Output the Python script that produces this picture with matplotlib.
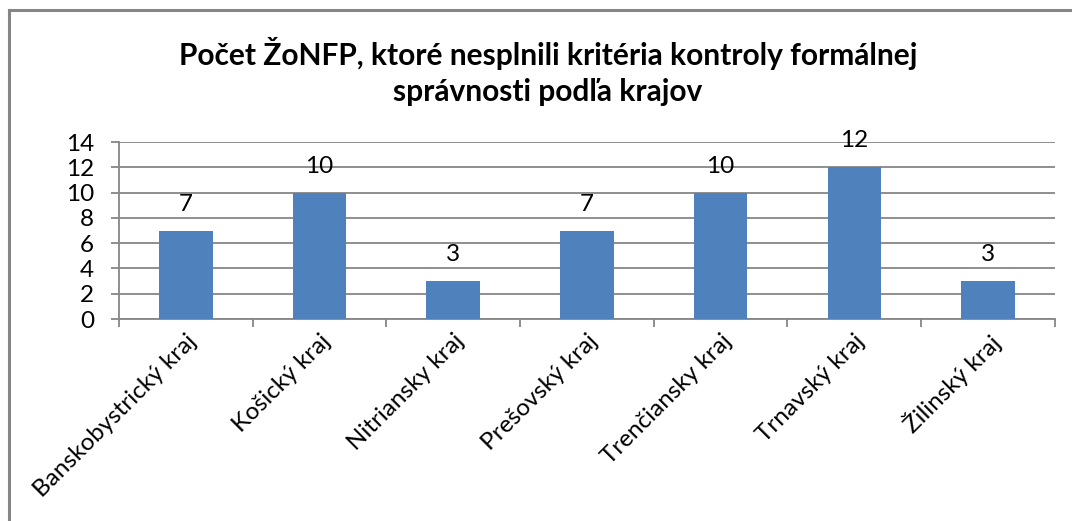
import numpy as np
import matplotlib
matplotlib.use("Agg")
import matplotlib.pyplot as plt
from matplotlib.lines import Line2D

# udaje z grafu
kraje = ["Banskobystrický kraj", "Košický kraj", "Nitriansky kraj", "Prešovský kraj",
         "Trenčiansky kraj", "Trnavský kraj", "Žilinský kraj"]
pocty = [7, 10, 3, 7, 10, 12, 3]
y_ticks = [0, 2, 4, 6, 8, 10, 12, 14]

modra = "#4F81BD"
seda = "#868686"

plt.rcParams['font.family'] = ['Lato', 'DejaVu Sans']

fig = plt.figure(figsize=(10.72, 5.21), dpi=100)
ax = fig.add_axes([0.111, 0.3877, 0.873, 0.3397])

x = np.arange(len(kraje))
ax.bar(x, pocty, width=0.4, color=modra, zorder=3)

# popisky hodnot nad stlpcami
for xi, v in zip(x, pocty):
    ax.annotate(str(v), (xi, v), xytext=(0, 19), textcoords="offset points",
                ha="center", va="center", fontsize=17.5)

ax.set_xlim(-0.5, len(kraje) - 0.5)
ax.set_ylim(0, 14)
ax.set_yticks(y_ticks)
ax.set_yticklabels([str(t) for t in y_ticks], fontsize=17.5)
ax.yaxis.grid(True, color=seda, linewidth=1.3, zorder=0)
ax.tick_params(axis="y", length=6, width=1.3, color=seda, pad=12)

# hranice kategorii ako ticky na osi x
ax.set_xticks(np.arange(-0.5, len(kraje)), minor=False)
ax.set_xticklabels([])
ax.set_xticks(x, minor=True)
ax.set_xticklabels(kraje, minor=True, rotation=45, ha="right", va="top",
                   rotation_mode="anchor", fontsize=17.5)
ax.tick_params(axis="x", which="major", length=6, width=1.3, color=seda)
ax.tick_params(axis="x", which="minor", length=0, pad=8)

for s in ["top", "right"]:
    ax.spines[s].set_visible(False)
for s in ["left", "bottom"]:
    ax.spines[s].set_color(seda)
    ax.spines[s].set_linewidth(1.3)

fig.text(0.511, 0.863, "Počet ŽoNFP, ktoré nesplnili kritéria kontroly formálnej\nsprávnosti podľa krajov",
         ha="center", va="center", fontsize=21.5, fontweight="bold", linespacing=1.35)

# okraj grafu (vidno len hornu a lavu stranu)
fig.add_artist(Line2D([0.0085, 0.0085], [0, 0.981], color=seda, linewidth=2.2, transform=fig.transFigure))
fig.add_artist(Line2D([0.0085, 1.0], [0.981, 0.981], color=seda, linewidth=2.2, transform=fig.transFigure))

fig.savefig("out.png", dpi=100)
